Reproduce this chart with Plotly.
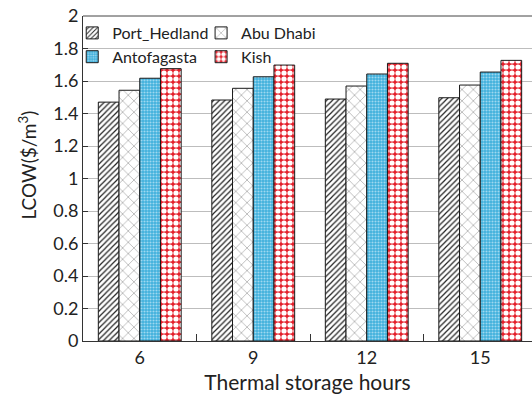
import plotly.graph_objects as go

# Levelized cost of water by site and thermal storage duration
hours = ["6", "9", "12", "15"]
port_hedland = [1.47, 1.483, 1.489, 1.497]
abu_dhabi = [1.543, 1.555, 1.569, 1.575]
antofagasta = [1.617, 1.626, 1.643, 1.655]
kish = [1.676, 1.698, 1.709, 1.727]

y_ticks = [0, 0.2, 0.4, 0.6, 0.8, 1, 1.2, 1.4, 1.6, 1.8, 2]

FONT = "Lato"
INK = "#222222"
outline = dict(color="#1a1a1a", width=1)

series = [
    ("Port_Hedland", port_hedland, dict(shape="/", bgcolor="white", fgcolor="#222222",
                                        size=4, solidity=0.3, fillmode="replace"), "legend"),
    ("Abu Dhabi", abu_dhabi, dict(shape="x", bgcolor="white", fgcolor="#9a9a9a",
                                  size=8, solidity=0.15, fillmode="replace"), "legend2"),
    ("Antofagasta", antofagasta, dict(shape=".", bgcolor="#3fb0dc", fgcolor="#9fd8f0",
                                      size=3, solidity=0.4, fillmode="replace"), "legend"),
    ("Kish", kish, dict(shape=".", bgcolor="#e4202b", fgcolor="#ffffff",
                        size=6, solidity=0.6, fillmode="replace"), "legend2"),
]

fig = go.Figure()
for name, vals, pat, leg in series:
    fig.add_trace(go.Bar(
        x=hours, y=vals, name=name, legend=leg,
        marker=dict(color=pat["bgcolor"], pattern=pat, line=outline),
    ))

legend_common = dict(
    bgcolor="rgba(255,255,255,0)", borderwidth=0,
    font=dict(family=FONT, size=16, color=INK),
    xref="paper", yref="paper", xanchor="left", yanchor="top",
    orientation="v", tracegroupgap=0, itemwidth=30,
)

fig.update_layout(
    width=532, height=403,
    margin=dict(l=83, r=0, t=16, b=62),
    paper_bgcolor="white", plot_bgcolor="white",
    barmode="group", bargap=0.27, bargroupgap=0,
    font=dict(family=FONT, size=18, color=INK),
    legend=dict(x=-0.024, y=1.0, **legend_common),
    legend2=dict(x=0.263, y=1.0, **legend_common),
    xaxis=dict(
        type="category", range=[-0.5, 3.456],
        tickson="boundaries", ticks="inside", ticklen=7, tickcolor="#333333",
        showline=True, linecolor="#333333", linewidth=1,
        showgrid=False,
        tickfont=dict(family=FONT, size=18, color=INK),
        title=dict(text="Thermal storage hours", standoff=8,
                   font=dict(family=FONT, size=21, color=INK)),
    ),
    yaxis=dict(
        range=[0, 2], tickvals=y_ticks, ticktext=[f"{v:g}" for v in y_ticks],
        ticks="inside", ticklen=5, tickcolor="#333333",
        showline=True, linecolor="#333333", linewidth=1,
        showgrid=True, gridcolor="#bdbdbd", gridwidth=1,
        zeroline=False,
        tickfont=dict(family=FONT, size=18, color=INK),
    ),
    annotations=[
        dict(text="LCOW($/m<sup>3</sup>)", textangle=-90, showarrow=False,
             xref="paper", yref="paper", x=-0.1225, y=0.543,
             xanchor="center", yanchor="middle",
             font=dict(family=FONT, size=19, color=INK)),
    ],
    shapes=[
        # white panel behind the legend entries, above the grid
        dict(type="rect", xref="paper", yref="paper", x0=0.002, x1=0.583,
             y0=0.86, y1=1.0, fillcolor="white", line=dict(width=0), layer="between"),
        # top frame line
        dict(type="line", xref="paper", yref="paper", x0=0, x1=1, y0=1, y1=1,
             line=dict(color="#444444", width=1), layer="above"),
    ],
)

fig.write_html("out.html")
